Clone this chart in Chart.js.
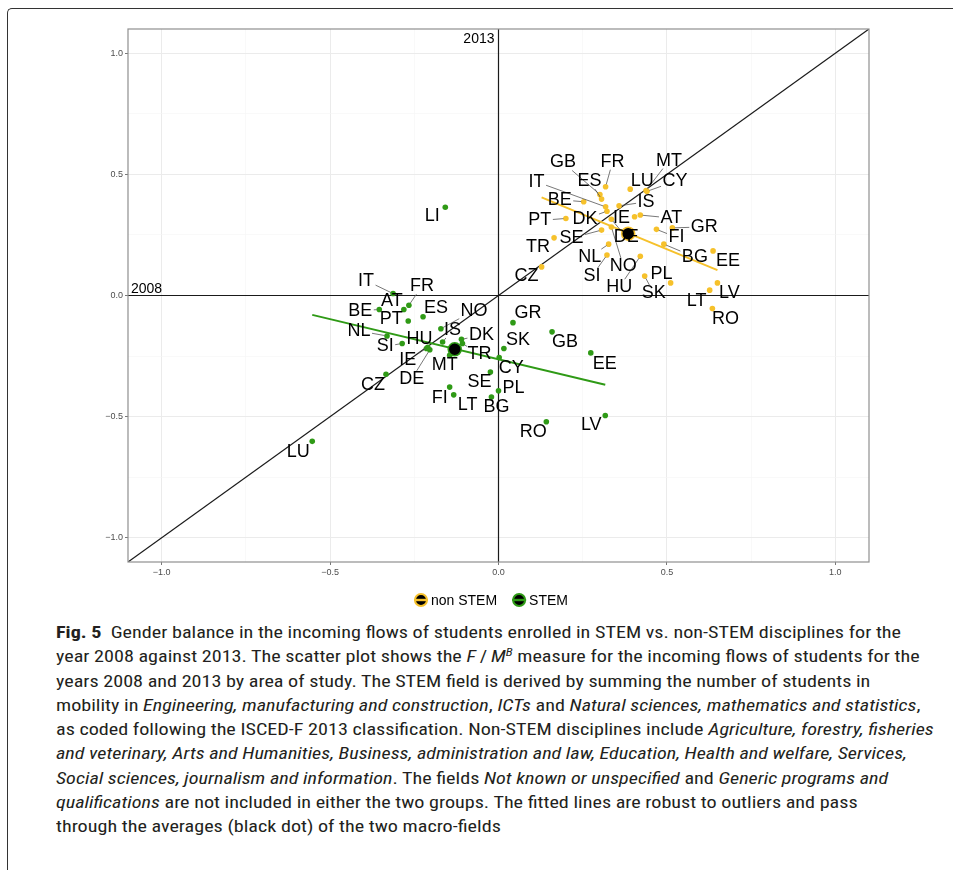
<!DOCTYPE html>
<html>
<head>
<meta charset="utf-8">
<title>Gender balance STEM vs non-STEM</title>
<script src="https://cdn.jsdelivr.net/npm/chart.js@4.4.1/dist/chart.umd.min.js"></script>
<style>
  html, body { margin: 0; padding: 0; background: #fff; }
  #page { position: relative; width: 953px; height: 870px; overflow: hidden; }
  #frame { position: absolute; left: 7px; top: 8px; width: 980px; height: 900px;
           border-top: 1.3px solid #333; border-left: 1.3px solid #333; border-top-left-radius: 5px; }
  #plot { position: absolute; left: 0; top: 0; }
  #caption { position: absolute; left: 56px; top: 620px; color: #231f20;
             font-family: "Liberation Sans Narrow", "Roboto Condensed", "Liberation Sans", Arial, sans-serif;
             font-size: 17px; }
  #caption .ln { height: 24.25px; line-height: 24.25px; white-space: nowrap; }
  #caption .ln span { display: inline-block; transform-origin: 0 50%; }
  #caption sup { font-size: 11px; line-height: 0; vertical-align: 6px; }
</style>
</head>
<body>
<div id="page">
  <div id="frame"></div>
  <canvas id="plot" width="953" height="615"></canvas>
  <div id="caption">
    <div class="ln"><span><b>Fig. 5</b>&nbsp; Gender balance in the incoming flows of students enrolled in STEM vs. non-STEM disciplines for the</span></div>
    <div class="ln"><span>year 2008 against 2013. The scatter plot shows the <i>F</i>&#8201;/&#8201;<i>M<sup>B</sup></i> measure for the incoming flows of students for the</span></div>
    <div class="ln"><span>years 2008 and 2013 by area of study. The STEM field is derived by summing the number of students in</span></div>
    <div class="ln"><span>mobility in <i>Engineering, manufacturing and construction</i>, <i>ICTs</i> and <i>Natural sciences, mathematics and statistics</i>,</span></div>
    <div class="ln"><span>as coded following the ISCED-F 2013 classification. Non-STEM disciplines include <i>Agriculture, forestry, fisheries</i></span></div>
    <div class="ln"><span><i>and veterinary, Arts and Humanities, Business, administration and law, Education, Health and welfare, Services,</i></span></div>
    <div class="ln"><span><i>Social sciences, journalism and information</i>. The fields <i>Not known or unspecified</i> and <i>Generic programs and</i></span></div>
    <div class="ln"><span><i>qualifications</i> are not included in either the two groups. The fitted lines are robust to outliers and pass</span></div>
    <div class="ln"><span>through the averages (black dot) of the two macro-fields</span></div>
  </div>
</div>
<script>
// ---- data: F/M^B measure, x = 2008, y = 2013 ----
const groupNames = ['non STEM', 'STEM'];
const xAxisYear = '2008';
const yAxisYear = '2013';

const nonStemCountries = ['FR','LU','MT','CY','GB','ES','BE','IT','IS','DK','PT','IE','AT','DE','SE',
                          'NO','TR','FI','GR','BG','EE','NL','SI','HU','SK','PL','CZ','LV','LT','RO'];
const nonStem2008 = [0.318, 0.391, 0.438, 0.441, 0.301, 0.306, 0.253, 0.318, 0.358, 0.322, 0.200, 0.404, 0.421, 0.335, 0.306,
                     0.335, 0.165, 0.469, 0.516, 0.491, 0.637, 0.327, 0.322, 0.421, 0.434, 0.511, 0.128, 0.650, 0.627, 0.635];
const nonStem2013 = [0.449, 0.439, 0.433, 0.430, 0.417, 0.398, 0.387, 0.366, 0.370, 0.348, 0.318, 0.325, 0.332, 0.315, 0.270,
                     0.283, 0.238, 0.273, 0.279, 0.212, 0.184, 0.212, 0.167, 0.162, 0.080, 0.052, 0.118, 0.052, 0.022, -0.054];

const stemCountries = ['LI','IT','FR','AT','BE','PT','ES','NO','NL','SI','HU','IS','DK','TR','MT','IE','DE',
                       'CZ','CY','SE','PL','FI','LT','BG','GR','SK','GB','EE','RO','LV','LU'];
const stem2008 = [-0.158, -0.313, -0.266, -0.281, -0.354, -0.268, -0.224, -0.171, -0.331, -0.286, -0.214, -0.166, -0.110, -0.107, -0.145, -0.210, -0.204,
                  -0.334, 0.002, -0.024, 0.000, -0.145, -0.133, -0.021, 0.043, 0.016, 0.159, 0.274, 0.142, 0.317, -0.553];
const stem2013 = [0.364, 0.008, -0.040, -0.058, -0.058, -0.105, -0.088, -0.137, -0.167, -0.198, -0.219, -0.192, -0.181, -0.198, -0.247, -0.214, -0.224,
                  -0.325, -0.256, -0.316, -0.393, -0.378, -0.410, -0.419, -0.112, -0.219, -0.150, -0.237, -0.521, -0.495, -0.602];

// group averages (black dots)
const nonStemAverage = [0.385, 0.255];
const stemAverage = [-0.130, -0.222];

// robust fitted lines, drawn over each group's 2008 range
const nonStemFit2008 = [0.128, 0.650];
const nonStemFit2013 = [0.405, 0.105];
const stemFit2008 = [-0.553, 0.317];
const stemFit2013 = [-0.080, -0.368];

// axes
const axisRange = [-1.1, 1.1];
const gridSteps = [-1, -0.75, -0.5, -0.25, 0, 0.25, 0.5, 0.75, 1];

// ---- styling / layout ----
const nonStemColor = '#f6c12b';
const stemColor = '#2f9a16';
const labelFont = '18px "Liberation Sans", Arial, sans-serif';

// label nudges in pixels (label centre relative to its point)
const nonStemLabelNudge = [[7,-25],[12,-8],[23,-30],[28,-10],[-37,-32],[-12,-18],[-24,-2],[-69,-25],[27,-4],[-22,8],
                           [-26,2],[-13,1],[31,3],[15,18],[-30,8],[12,39],[-16,9],[20,8],[32,-1],[31,13],
                           [15,10],[-19,13],[-15,21],[-21,31],[9,17],[-9,-9],[-15,9],[12,10],[-13,11],[13,10]];
const stemLabelNudge = [[-13,9],[-27,-13],[13,-19],[-12,-9],[-19,1],[-17,-2],[13,-9],[33,-18],[-28,-5],[-17,3],
                        [-7,-10],[10,-12],[20,-4],[17,11],[-5,10],[-20,13],[-18,29],[-13,11],[12,11],[-11,10],
                        [15,-3],[-10,11],[14,10],[5,10],[15,-10],[14,-9],[13,10],[14,11],[-13,10],[-14,10],[-14,11]];

// caption line lengths used to pick one common horizontal scale
const captionLineWidths = [861, 861, 778, 879, 882, 859, 830, 795, 450];

// ---- helpers ----
const toPoints = (xs, ys) => xs.map((v, i) => ({ x: v, y: ys[i] }));
const isMajor = v => Math.abs(Math.round(v * 2) - v * 2) < 1e-9;
const fmtTick = v => {
  if (!isMajor(v)) return '';
  const s = Math.abs(v).toFixed(1);
  return v < 0 ? '\u2212' + s : s;
};

const groups = [
  { names: nonStemCountries, xs: nonStem2008, ys: nonStem2013, nudge: nonStemLabelNudge },
  { names: stemCountries, xs: stem2008, ys: stem2013, nudge: stemLabelNudge }
];

// ---- plugins ----
const panelFrame = {
  id: 'panelFrame',
  afterDatasetsDraw(chart) {
    const { ctx, chartArea: a } = chart;
    ctx.save();
    ctx.strokeStyle = '#8f8f8f';
    ctx.lineWidth = 1.2;
    ctx.strokeRect(a.left, a.top, a.right - a.left, a.bottom - a.top);
    ctx.restore();
  }
};

const countryLabels = {
  id: 'countryLabels',
  afterDatasetsDraw(chart) {
    const { ctx, chartArea, scales: { x, y } } = chart;
    ctx.save();
    // year captions on the reference axes
    ctx.fillStyle = '#000';
    ctx.font = '14px "Liberation Sans", Arial, sans-serif';
    ctx.textBaseline = 'alphabetic';
    ctx.textAlign = 'right';
    ctx.fillText(yAxisYear, x.getPixelForValue(0) - 4, chartArea.top + 14);
    ctx.textAlign = 'left';
    ctx.fillText(xAxisYear, chartArea.left + 3, y.getPixelForValue(0) - 3);

    ctx.font = labelFont;
    const items = [];
    groups.forEach(g => {
      g.names.forEach((name, i) => {
        const px = x.getPixelForValue(g.xs[i]);
        const py = y.getPixelForValue(g.ys[i]);
        const lx = px + g.nudge[i][0];
        const ly = py + g.nudge[i][1];
        items.push({ name, px, py, lx, ly, w: ctx.measureText(name).width });
      });
    });
    // leader segments
    ctx.strokeStyle = '#555';
    ctx.lineWidth = 0.8;
    items.forEach(it => {
      const dx = it.px - it.lx, dy = it.py - it.ly;
      const hw = it.w / 2 + 1.5, hh = 8;
      if (Math.abs(dx) <= hw && Math.abs(dy) <= hh) return;
      const tx = dx === 0 ? Infinity : hw / Math.abs(dx);
      const ty = dy === 0 ? Infinity : hh / Math.abs(dy);
      const t = Math.min(tx, ty);
      const sx = it.lx + dx * t, sy = it.ly + dy * t;
      const len = Math.hypot(it.px - sx, it.py - sy);
      if (len < 5) return;
      const ex = it.px - (it.px - sx) / len * 2.5;
      const ey = it.py - (it.py - sy) / len * 2.5;
      ctx.beginPath();
      ctx.moveTo(sx, sy);
      ctx.lineTo(ex, ey);
      ctx.stroke();
    });
    // label text
    ctx.fillStyle = '#000';
    ctx.textAlign = 'center';
    ctx.textBaseline = 'middle';
    items.forEach(it => ctx.fillText(it.name, it.lx, it.ly));
    ctx.restore();
  }
};

const groupLegend = {
  id: 'groupLegend',
  afterDraw(chart) {
    const { ctx } = chart;
    const entries = [{ text: groupNames[0], color: nonStemColor }, { text: groupNames[1], color: stemColor }];
    const keyR = 7, gapText = 3, gapItems = 15, centerX = 491, cy = 600;
    ctx.save();
    ctx.font = '14px "Liberation Sans", Arial, sans-serif';
    const widths = entries.map(e => keyR * 2 + gapText + ctx.measureText(e.text).width);
    const total = widths.reduce((a, b) => a + b, 0) + gapItems * (entries.length - 1);
    let xPos = centerX - total / 2;
    entries.forEach((e, i) => {
      const cx = xPos + keyR;
      ctx.beginPath();
      ctx.arc(cx, cy, keyR - 1, 0, Math.PI * 2);
      ctx.fillStyle = '#000';
      ctx.fill();
      ctx.lineWidth = 2;
      ctx.strokeStyle = e.color;
      ctx.stroke();
      ctx.beginPath();
      ctx.moveTo(cx - keyR, cy);
      ctx.lineTo(cx + keyR, cy);
      ctx.lineWidth = 2.4;
      ctx.stroke();
      ctx.fillStyle = '#000';
      ctx.textAlign = 'left';
      ctx.textBaseline = 'middle';
      ctx.fillText(e.text, xPos + keyR * 2 + gapText, cy + 1);
      xPos += widths[i] + gapItems;
    });
    ctx.restore();
  }
};

// ---- chart ----
const axisCommon = {
  type: 'linear',
  min: axisRange[0],
  max: axisRange[1],
  afterBuildTicks: s => { s.ticks = gridSteps.map(v => ({ value: v })); },
  ticks: {
    callback: v => fmtTick(v),
    autoSkip: false,
    maxRotation: 0,
    padding: 2,
    color: '#4d4d4d',
    font: { size: 9, family: '"Liberation Sans", Arial, sans-serif' }
  },
  grid: {
    color: c => isMajor(c.tick.value) ? '#ebebeb' : '#f5f5f5',
    lineWidth: c => isMajor(c.tick.value) ? 1 : 0.6,
    tickColor: c => isMajor(c.tick.value) ? '#555' : 'rgba(0,0,0,0)',
    tickLength: 3,
    tickWidth: 0.8,
    drawTicks: true
  },
  border: { display: false }
};

new Chart(document.getElementById('plot'), {
  type: 'scatter',
  data: {
    datasets: [
      { data: [{ x: axisRange[0], y: axisRange[0] }, { x: axisRange[1], y: axisRange[1] }],
        showLine: true, borderColor: '#1a1a1a', borderWidth: 1.2, pointRadius: 0, order: 10 },
      { data: [{ x: axisRange[0], y: 0 }, { x: axisRange[1], y: 0 }],
        showLine: true, borderColor: '#1a1a1a', borderWidth: 1.2, pointRadius: 0, order: 10 },
      { data: [{ x: 0, y: axisRange[0] }, { x: 0, y: axisRange[1] }],
        showLine: true, borderColor: '#1a1a1a', borderWidth: 1.2, pointRadius: 0, order: 10 },
      { label: groupNames[0], data: toPoints(nonStem2008, nonStem2013),
        backgroundColor: nonStemColor, borderWidth: 0, pointRadius: 2.8, order: 5 },
      { label: groupNames[1], data: toPoints(stem2008, stem2013),
        backgroundColor: stemColor, borderWidth: 0, pointRadius: 2.8, order: 5 },
      { data: toPoints(nonStemFit2008, nonStemFit2013), showLine: true,
        borderColor: nonStemColor, borderWidth: 2, pointRadius: 0, order: 3 },
      { data: toPoints(stemFit2008, stemFit2013), showLine: true,
        borderColor: stemColor, borderWidth: 2, pointRadius: 0, order: 3 },
      { data: [{ x: nonStemAverage[0], y: nonStemAverage[1] }],
        backgroundColor: '#000', borderColor: nonStemColor, borderWidth: 1.5, pointRadius: 6.5, order: 1 },
      { data: [{ x: stemAverage[0], y: stemAverage[1] }],
        backgroundColor: '#000', borderColor: stemColor, borderWidth: 1.5, pointRadius: 6.5, order: 1 }
    ]
  },
  options: {
    responsive: false,
    animation: false,
    events: [],
    layout: { padding: { left: 0, right: 84, top: 29, bottom: 0 } },
    plugins: { legend: { display: false }, tooltip: { enabled: false } },
    scales: {
      x: Object.assign({}, axisCommon, { position: 'bottom', afterFit: s => { s.height = 53; } }),
      y: Object.assign({}, axisCommon, { position: 'left', afterFit: s => { s.width = 128; } })
    }
  },
  plugins: [panelFrame, countryLabels, groupLegend]
});

// one common horizontal scale for every caption line (least squares over the line lengths)
function fitCaption() {
  const spans = Array.from(document.querySelectorAll('#caption .ln span'));
  spans.forEach(s => { s.style.transform = 'none'; });
  const natural = spans.map(s => s.getBoundingClientRect().width);
  let num = 0, den = 0;
  natural.forEach((n, i) => { num += n * captionLineWidths[i]; den += n * n; });
  if (den <= 0) return;
  const k = num / den;
  spans.forEach(s => { s.style.transform = 'scaleX(' + k + ')'; });
}
fitCaption();
if (document.fonts && document.fonts.ready) document.fonts.ready.then(fitCaption);
</script>
</body>
</html>
